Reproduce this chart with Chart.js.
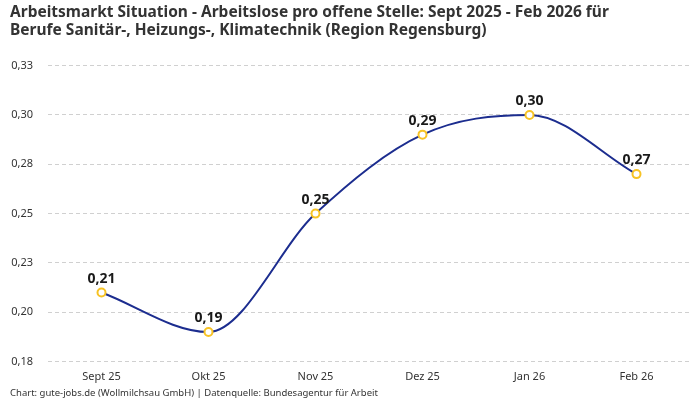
<!DOCTYPE html>
<html>
<head>
<meta charset="utf-8">
<script src="https://cdn.jsdelivr.net/npm/chart.js@4"></script>
<style>
html,body{margin:0;padding:0;background:#fff;}
#wrap{width:700px;height:400px;position:relative;}
</style>
</head>
<body>
<div id="wrap"><canvas id="c" width="700" height="400"></canvas></div>
<script>
const categories = ['Sept 25', 'Okt 25', 'Nov 25', 'Dez 25', 'Jan 26', 'Feb 26'];
const values = [0.21, 0.19, 0.25, 0.29, 0.30, 0.27];
const valueLabels = ['0,21', '0,19', '0,25', '0,29', '0,30', '0,27'];
const yTicks = [0.175, 0.2, 0.225, 0.25, 0.275, 0.3, 0.325];
const yTickLabels = ['0,18', '0,20', '0,23', '0,25', '0,28', '0,30', '0,33'];
const titleLines = ['Arbeitsmarkt Situation - Arbeitslose pro offene Stelle: Sept 2025 - Feb 2026 für', 'Berufe Sanitär-, Heizungs-, Klimatechnik (Region Regensburg)'];
const footerText = 'Chart: gute-jobs.de (Wollmilchsau GmbH) | Datenquelle: Bundesagentur für Arbeit';

const FONT = '"Noto Sans", Roboto, sans-serif';

const valueLabelPlugin = {
  id: 'valueLabels',
  afterDatasetsDraw(chart) {
    const ctx = chart.ctx;
    const meta = chart.getDatasetMeta(0);
    ctx.save();
    ctx.font = 'bold 14px ' + FONT;
    ctx.fillStyle = '#1a1a1a';
    ctx.textAlign = 'center';
    ctx.textBaseline = 'bottom';
    meta.data.forEach((pt, i) => {
      ctx.fillText(valueLabels[i], pt.x, pt.y - 7);
    });
    ctx.restore();
  }
};

new Chart(document.getElementById('c'), {
  type: 'line',
  data: {
    labels: categories,
    datasets: [{
      data: values,
      borderColor: '#1c2d8f',
      borderWidth: 2,
      cubicInterpolationMode: 'monotone',
      pointRadius: 4,
      pointHoverRadius: 4,
      pointBorderWidth: 2,
      pointBorderColor: '#f7c325',
      pointBackgroundColor: '#ffffff',
      fill: false
    }]
  },
  options: {
    responsive: false,
    animation: false,
    devicePixelRatio: 1,
    layout: { padding: { left: 10, right: 10, top: 0, bottom: 1 } },
    plugins: {
      legend: { display: false },
      tooltip: { enabled: false },
      title: {
        display: true,
        text: titleLines,
        align: 'start',
        color: '#333333',
        font: { family: FONT, size: 15.5, weight: 'bold', lineHeight: 1.18 },
        padding: { top: 3, bottom: 26 }
      },
      subtitle: {
        display: true,
        position: 'bottom',
        text: footerText,
        align: 'start',
        color: '#333333',
        font: { family: FONT, size: 9.5, lineHeight: 1.2 },
        padding: { top: 0, bottom: 0 }
      }
    },
    scales: {
      x: {
        offset: true,
        grid: { display: false, drawTicks: false },
        border: { display: false },
        ticks: { color: '#333333', font: { family: FONT, size: 11 }, padding: 9 },
        afterFit(axis) { axis.height = 26; }
      },
      y: {
        min: 0.175,
        max: 0.325,
        afterBuildTicks(axis) { axis.ticks = yTicks.map(v => ({ value: v })); },
        grid: { color: '#d0d0d0', drawTicks: false, lineWidth: 1 },
        border: { display: false, dash: [4, 3] },
        ticks: {
          color: '#333333',
          font: { family: FONT, size: 11 },
          padding: 15,
          callback(v, i) { return yTickLabels[i]; }
        },
        afterFit(axis) { axis.width = 38; }
      }
    }
  },
  plugins: [valueLabelPlugin]
});
</script>
</body>
</html>
